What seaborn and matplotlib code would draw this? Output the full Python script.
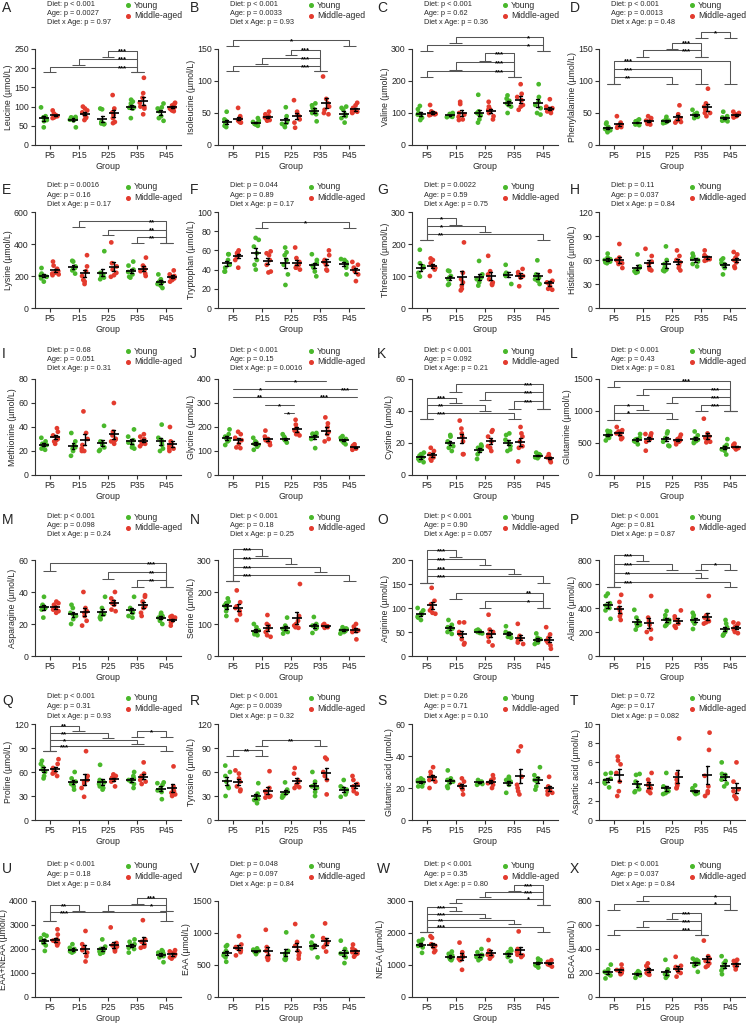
import numpy as np
import pandas as pd
import seaborn as sns
import matplotlib.pyplot as plt
from matplotlib.lines import Line2D

groups = ['P5', 'P15', 'P25', 'P35', 'P45']
ages = ['Young', 'Middle-aged']
colors = ['#49b82b', '#e33b2e']

# values, one list per group (P5..P45), µmol/L
leu_young = [[98, 75, 72, 70, 65, 62, 46], [73, 72, 70, 68, 66, 64, 46], [95, 93, 60, 58, 56, 55, 54],
             [118, 113, 100, 98, 97, 95, 70, 108], [108, 98, 95, 88, 75, 70, 63]]
leu_middle = [[90, 82, 78, 76, 75, 73, 70, 72], [100, 95, 90, 85, 78, 72, 70, 65], [130, 95, 85, 78, 70, 60, 57],
              [175, 135, 123, 110, 100, 95, 80, 100], [110, 107, 103, 98, 95, 93, 90, 88]]
ile_young = [[52, 40, 38, 35, 33, 30, 28], [42, 38, 36, 35, 33, 32, 30], [59, 45, 38, 35, 33, 30, 28],
             [65, 62, 58, 55, 50, 48, 37], [60, 58, 55, 48, 45, 42, 35]]
ile_middle = [[58, 45, 42, 40, 38, 36, 35, 36], [52, 48, 45, 43, 40, 39, 38], [70, 52, 48, 45, 40, 35, 27],
              [107, 72, 65, 60, 55, 50, 48], [66, 62, 58, 55, 53, 52, 50, 51]]
val_young = [[122, 112, 100, 95, 90, 85, 78], [100, 97, 95, 93, 90, 88, 87], [157, 105, 100, 95, 80, 70, 92],
             [155, 145, 135, 130, 125, 120, 100, 138], [190, 150, 135, 125, 115, 95, 100]]
val_middle = [[125, 105, 100, 98, 97, 95, 93, 96], [135, 128, 100, 95, 88, 80, 78], [135, 120, 112, 105, 100, 90, 80, 110],
              [190, 160, 150, 140, 125, 120, 110], [143, 120, 115, 110, 105, 100, 105]]
phe_young = [[35, 33, 28, 25, 23, 20, 22], [40, 38, 37, 35, 33, 32, 31], [44, 40, 38, 37, 36, 35, 34],
             [55, 50, 48, 46, 44, 42, 45], [52, 45, 43, 40, 38, 37, 39]]
phe_middle = [[45, 35, 32, 30, 30, 28, 27], [45, 42, 40, 38, 35, 33, 32], [62, 48, 42, 40, 38, 36, 35],
              [88, 65, 60, 55, 50, 45, 50], [52, 50, 48, 47, 45, 44, 43]]
lys_young = [[250, 215, 205, 200, 195, 185, 165], [295, 290, 260, 250, 245, 235, 215], [355, 220, 210, 195, 190, 180, 200],
             [290, 265, 240, 225, 210, 195, 190], [210, 180, 165, 160, 150, 140, 125]]
lys_middle = [[290, 265, 245, 230, 220, 215, 210, 205], [330, 260, 230, 200, 175, 150, 165], [410, 280, 260, 240, 220, 205, 195],
              [315, 265, 255, 240, 230, 215, 200], [235, 210, 200, 195, 185, 175, 165]]
trp_young = [[56, 56, 50, 45, 42, 38, 38], [73, 71, 64, 57, 50, 45, 40], [63, 58, 55, 50, 45, 35, 24],
             [56, 50, 47, 44, 42, 38, 33], [51, 50, 48, 47, 45, 42, 35]]
trp_middle = [[60, 58, 57, 55, 53, 50, 42, 57], [59, 57, 55, 50, 45, 38, 37], [63, 52, 48, 45, 44, 42, 42, 40],
              [60, 55, 50, 48, 45, 40, 39], [48, 45, 42, 40, 38, 35, 28]]
thr_young = [[182, 140, 130, 125, 110, 100, 98], [117, 115, 100, 95, 90, 75, 72], [147, 105, 100, 95, 90, 80, 70],
             [135, 110, 105, 102, 100, 75], [149, 105, 100, 95, 85, 75, 90]]
thr_middle = [[155, 150, 140, 130, 125, 120, 100], [205, 110, 90, 80, 70, 60, 55], [163, 115, 105, 90, 80, 75, 72],
              [122, 112, 105, 100, 95, 68], [115, 85, 80, 75, 68, 60, 57]]
his_young = [[68, 63, 61, 60, 58, 57, 56], [67, 52, 50, 48, 46, 45, 44], [77, 60, 55, 50, 48, 46, 47],
             [68, 65, 60, 58, 55, 52, 62], [62, 60, 56, 55, 50, 42, 52]]
his_middle = [[80, 63, 60, 58, 55, 50, 56], [74, 65, 58, 55, 50, 48, 47], [72, 65, 60, 57, 53, 50, 47],
              [72, 66, 64, 62, 61, 60, 59], [70, 67, 63, 60, 57, 52, 50]]
met_young = [[31, 28, 26, 25, 24, 22, 21], [35, 28, 25, 23, 22, 20, 16], [41, 28, 27, 25, 23, 21, 20],
             [38, 32, 29, 27, 25, 23, 22], [42, 31, 29, 27, 25, 22, 20]]
met_middle = [[39, 36, 33, 31, 30, 28, 26, 29], [53, 35, 30, 25, 22, 20, 20], [60, 36, 33, 30, 29, 28, 26, 30],
              [34, 32, 30, 28, 26, 24, 26], [40, 28, 26, 24, 22, 20, 22]]
gly_young = [[190, 170, 160, 155, 145, 140, 125], [155, 140, 135, 130, 125, 118, 105], [170, 160, 155, 150, 148, 145, 135],
             [175, 172, 170, 168, 160, 150, 112], [162, 155, 150, 145, 140, 135, 128]]
gly_middle = [[180, 170, 155, 145, 130, 115, 112], [185, 160, 150, 145, 140, 135, 125], [230, 210, 195, 185, 175, 170, 165],
              [240, 215, 200, 180, 170, 150, 140], [128, 122, 118, 115, 112, 110, 105]]
cys_young = [[14, 13, 12, 11, 10, 9, 8], [25, 24, 21, 20, 18, 17, 15], [19, 18, 17, 16, 15, 13, 10],
             [26, 25, 22, 20, 18, 16, 15], [14, 13, 12.5, 12, 11.5, 11, 10.5]]
cys_middle = [[17, 15, 13, 12, 11, 10, 9], [34, 29, 26, 24, 21, 13, 13], [28, 27, 24, 21, 18, 17, 15],
              [30, 26, 24, 21, 18, 17, 8.5], [13, 12, 11, 10.5, 10, 9, 8]]
gln_young = [[690, 680, 650, 630, 610, 580, 540], [640, 580, 560, 550, 530, 520, 480], [680, 650, 580, 560, 520, 450, 460],
             [680, 620, 570, 550, 530, 520, 500], [560, 470, 440, 420, 400, 380, 320]]
gln_middle = [[750, 700, 680, 650, 620, 580, 560], [650, 640, 620, 590, 560, 520, 380], [630, 590, 560, 540, 530, 520, 480],
              [880, 650, 600, 580, 550, 520, 510], [490, 470, 450, 440, 430, 420, 400]]
asn_young = [[37, 32, 31, 30, 30, 29, 24], [32, 30, 27, 26, 25, 23, 20], [37, 30, 27, 26, 25, 24, 23],
             [37, 30, 29, 28, 27, 25, 24], [27, 26, 25, 24, 24, 22, 20]]
asn_middle = [[34, 33, 32, 31, 30, 29, 27, 28], [40, 30, 28, 27, 25, 22, 19], [40, 36, 34, 33, 32, 29, 28],
              [38, 37, 34, 31, 30, 27, 25], [25, 24.5, 24, 23, 22.5, 22, 21, 19]]
ser_young = [[180, 170, 165, 158, 150, 140, 125], [100, 90, 80, 75, 70, 68, 65], [120, 95, 88, 85, 80, 75, 70],
             [122, 100, 95, 90, 88, 85, 72], [90, 86, 84, 80, 78, 75, 70]]
ser_middle = [[205, 168, 155, 150, 140, 130, 112], [128, 100, 95, 85, 75, 65, 60], [225, 125, 110, 100, 95, 90, 88],
              [100, 97, 95, 93, 92, 90, 88], [100, 92, 85, 80, 78, 75, 52]]
arg_young = [[100, 95, 90, 87, 82, 80, 75], [75, 65, 60, 57, 55, 50, 46], [55, 53, 52, 51, 50, 48, 47],
             [62, 50, 47, 45, 43, 40, 38], [47, 38, 35, 33, 30, 28, 25]]
arg_middle = [[142, 115, 108, 100, 95, 90, 88], [70, 70, 50, 45, 35, 27, 24], [86, 55, 50, 45, 40, 30, 22],
              [67, 42, 38, 35, 32, 28, 25], [60, 45, 38, 32, 28, 22, 15]]
ala_young = [[520, 500, 440, 420, 400, 380, 310], [385, 320, 290, 270, 260, 250, 220], [375, 340, 310, 300, 280, 260, 250],
             [360, 340, 320, 300, 290, 270, 225], [300, 270, 240, 220, 200, 180, 170]]
ala_middle = [[510, 450, 400, 380, 350, 330, 300], [500, 320, 290, 260, 220, 200, 145], [380, 330, 310, 290, 270, 250, 235],
              [500, 340, 320, 300, 290, 280, 270], [280, 270, 250, 240, 220, 200, 190]]
pro_young = [[74, 70, 66, 63, 60, 55, 52], [60, 52, 48, 46, 45, 42, 38], [69, 50, 47, 45, 42, 40, 38],
             [60, 55, 52, 50, 48, 45, 40], [47, 46, 44, 40, 37, 35, 26]]
pro_middle = [[76, 70, 65, 62, 60, 58, 55], [86, 55, 50, 48, 45, 40, 29], [57, 55, 53, 52, 50, 48, 42],
              [72, 58, 55, 52, 50, 48, 45], [67, 42, 38, 36, 34, 32, 30]]
tyr_young = [[68, 60, 55, 48, 42, 40, 30], [46, 33, 30, 28, 26, 25, 21], [47, 38, 35, 33, 31, 30, 28],
             [60, 48, 44, 42, 40, 35, 30], [50, 42, 40, 38, 35, 32, 29]]
tyr_middle = [[62, 58, 52, 48, 42, 38, 36], [61, 40, 36, 33, 30, 29, 28], [65, 58, 50, 47, 44, 41, 40],
              [78, 76, 60, 55, 50, 32], [55, 50, 45, 42, 40, 36, 33]]
glu_young = [[26, 25, 25, 24, 23, 21, 21], [31, 26, 25, 24, 23, 21, 20], [25, 24.5, 24, 23.5, 23, 22.5, 22],
             [27, 26, 25, 24, 23, 22, 17], [33, 28, 26, 25, 24, 21, 19]]
glu_middle = [[33, 30, 28, 26, 25, 24, 20], [26, 24, 22, 21, 20, 19, 16], [28, 26, 25, 24, 23, 22, 20],
              [46, 43, 27, 22, 20, 18, 16], [27, 21, 20, 19, 18, 17, 16]]
asp_young = [[4.9, 4.8, 4.3, 4.1, 3.9, 3.8, 3.4], [4.8, 4.7, 4.0, 3.6, 3.2, 3.0, 2.9], [4.9, 3.5, 3.3, 3.0, 2.9, 2.8, 2.7],
             [3.6, 3.3, 3.0, 2.9, 2.8, 2.8, 2.7], [6.0, 4.8, 4.7, 4.5, 4.2, 3.8, 3.5]]
asp_middle = [[6.6, 6.2, 5.8, 4.9, 4.0, 3.0, 2.5], [4.9, 4.2, 3.8, 3.6, 3.3, 3.0, 2.8], [8.5, 4.8, 4.2, 3.8, 3.6, 3.4, 3.3],
              [9.1, 7.3, 3.5, 3.0, 2.8, 2.5, 4.6], [6.0, 4.0, 3.2, 3.0, 2.5, 2.3, 2.2]]
tot_young = [[2600, 2550, 2450, 2350, 2250, 2150, 1920], [2200, 2050, 2000, 1950, 1900, 1900, 1850],
             [2400, 2100, 2000, 1950, 1900, 1850, 1800], [2400, 2300, 2200, 2150, 2050, 2000, 1850],
             [1950, 1900, 1850, 1800, 1700, 1650, 1450]]
tot_middle = [[2820, 2600, 2400, 2350, 2300, 2200, 2150, 2250], [2750, 2200, 2050, 1950, 1850, 1700, 1480],
              [2900, 2250, 2150, 2100, 2000, 1950, 1900], [3200, 2400, 2300, 2200, 2150, 2100, 2050],
              [1950, 1900, 1850, 1780, 1700, 1650, 1600]]
eaa_young = [[810, 790, 720, 680, 650, 620, 550], [760, 740, 720, 710, 700, 690, 670], [1010, 720, 680, 650, 600, 580, 590],
             [950, 850, 820, 800, 780, 760, 620], [880, 750, 700, 680, 660, 620, 530]]
eaa_middle = [[950, 820, 780, 760, 730, 700, 650], [1050, 780, 720, 650, 620, 600, 580], [1140, 860, 800, 720, 690, 650, 600],
              [1150, 920, 880, 850, 820, 780, 710], [820, 760, 730, 700, 680, 660, 630]]
neaa_young = [[1800, 1750, 1700, 1650, 1600, 1550, 1380], [1420, 1350, 1300, 1250, 1200, 1150, 1180],
              [1500, 1400, 1320, 1300, 1250, 1200, 1150], [1500, 1450, 1400, 1350, 1300, 1250, 1120],
              [1200, 1150, 1100, 1050, 1000, 980, 920]]
neaa_middle = [[1900, 1850, 1650, 1600, 1550, 1450, 1400], [1700, 1400, 1300, 1250, 1200, 1150, 850],
               [1780, 1450, 1380, 1320, 1280, 1250, 1200], [2050, 1500, 1420, 1380, 1320, 1300, 1250],
               [1150, 1100, 1080, 1050, 1020, 1000, 950]]
bcaa_young = [[270, 230, 210, 200, 190, 180, 155], [215, 205, 200, 195, 190, 180, 160], [310, 230, 200, 190, 180, 170, 160],
              [320, 310, 300, 290, 280, 260, 210], [340, 300, 280, 260, 240, 220, 190]]
bcaa_middle = [[270, 235, 225, 220, 210, 200, 190], [280, 260, 240, 220, 200, 190, 185], [335, 260, 250, 230, 210, 200, 170],
               [470, 340, 320, 300, 280, 260, 250], [310, 300, 280, 270, 260, 250, 230]]

# two-way ANOVA p values: Diet, Age, Diet x Age
leu_p = ['p < 0.001', 'p = 0.0027', 'p = 0.97']
ile_p = ['p < 0.001', 'p = 0.0033', 'p = 0.93']
val_p = ['p < 0.001', 'p = 0.62', 'p = 0.36']
phe_p = ['p < 0.001', 'p = 0.0013', 'p = 0.48']
lys_p = ['p = 0.0016', 'p = 0.16', 'p = 0.17']
trp_p = ['p = 0.044', 'p = 0.89', 'p = 0.17']
thr_p = ['p = 0.0022', 'p = 0.59', 'p = 0.75']
his_p = ['p = 0.11', 'p = 0.037', 'p = 0.84']
met_p = ['p = 0.68', 'p = 0.051', 'p = 0.31']
gly_p = ['p < 0.001', 'p = 0.15', 'p = 0.0016']
cys_p = ['p < 0.001', 'p = 0.092', 'p = 0.21']
gln_p = ['p < 0.001', 'p = 0.43', 'p = 0.81']
asn_p = ['p < 0.001', 'p = 0.098', 'p = 0.24']
ser_p = ['p < 0.001', 'p = 0.18', 'p = 0.25']
arg_p = ['p < 0.001', 'p = 0.90', 'p = 0.057']
ala_p = ['p < 0.001', 'p = 0.81', 'p = 0.87']
pro_p = ['p < 0.001', 'p = 0.31', 'p = 0.93']
tyr_p = ['p < 0.001', 'p = 0.0039', 'p = 0.32']
glu_p = ['p = 0.26', 'p = 0.71', 'p = 0.10']
asp_p = ['p = 0.72', 'p = 0.17', 'p = 0.082']
tot_p = ['p < 0.001', 'p = 0.18', 'p = 0.84']
eaa_p = ['p = 0.048', 'p = 0.097', 'p = 0.84']
neaa_p = ['p < 0.001', 'p = 0.35', 'p = 0.80']
bcaa_p = ['p < 0.001', 'p = 0.037', 'p = 0.84']

# group comparisons: (group a, group b, foot a, foot b, top, stars, star position)
leu_sig = [(0, 3, 190, 190, 202, '***', 'b'), (1, 3, 209, 190, 225, '***', 'b'), (2, 3, 229, 190, 246, '***', 'b')]
ile_sig = [(0, 4, 154, 154, 164, '*', 'c'), (2, 3, 140, 115, 149, '***', 'b'), (1, 3, 127, 115, 136, '***', 'b'),
           (0, 3, 115, 115, 123, '***', 'b')]
val_sig = [(1, 4, 319, 293, 337, '*', 'b'), (0, 4, 293, 293, 313, '*', 'b'), (2, 3, 261, 211, 287, '***', 'b'),
           (1, 3, 235, 211, 258, '***', 'b'), (0, 3, 211, 211, 230, '***', 'b')]
phe_sig = [(3, 4, 167, 167, 177, '*', 'c'), (2, 3, 150, 138, 160, '***', 'b'), (1, 3, 138, 138, 148, '***', 'b'),
           (0, 4, 96, 96, 132, '***', 'a'), (0, 3, 96, 96, 118, '***', 'a'), (0, 2, 96, 96, 106, '**', 'a')]
lys_sig = [(1, 4, 505, 406, 541, '**', 'b'), (2, 4, 457, 406, 490, '**', 'b'), (3, 4, 406, 406, 442, '**', 'b')]
trp_sig = [(1, 4, 83, 83, 89.5, '*', 'c')]
thr_sig = [(0, 1, 213, 260, 281, '*', 'a'), (0, 2, 213, 237, 256, '*', 'a'), (0, 4, 213, 213, 231, '**', 'a')]
cys_sig = [(1, 4, 52, 41.5, 56.8, '***', 'b'), (2, 4, 46.7, 41.5, 51.6, '***', 'b'), (3, 4, 41.5, 41.5, 46.3, '***', 'b'),
           (0, 1, 34.7, 44.8, 48.4, '***', 'a'), (0, 2, 34.7, 40, 43.6, '**', 'a'), (0, 3, 34.7, 34.7, 38.9, '***', 'a')]
gln_sig = [(0, 4, 1368, 1000, 1474, '***', 2.5), (1, 4, 1247, 1000, 1342, '***', 'b'), (2, 4, 1121, 1000, 1221, '***', 'b'),
           (3, 4, 1000, 1000, 1095, '***', 'b'), (0, 1, 853, 1010, 1095, '*', 'a'), (0, 2, 853, 879, 974, '*', 'a')]
asn_sig = [(0, 4, 53.3, 43.4, 57.9, '***', 'b'), (2, 4, 48.4, 43.4, 52.2, '**', 'b'), (3, 4, 43.4, 43.4, 47.4, '**', 'b')]
ser_sig = [(0, 1, 235, 314, 335, '***', 'a'), (0, 2, 235, 287, 305, '***', 'a'), (0, 3, 235, 261, 277, '***', 'a'),
           (0, 4, 235, 235, 253, '***', 'a')]
arg_sig = [(0, 1, 153, 207, 220, '***', 'a'), (0, 2, 153, 189, 202, '***', 'a'), (0, 3, 153, 171, 182, '***', 'a'),
           (0, 4, 153, 153, 166, '***', 'a'), (1, 4, 118, 100, 132, '**', 'b'), (2, 4, 100, 100, 114, '*', 'b')]
ala_sig = [(0, 1, 576, 795, 843, '***', 'a'), (0, 2, 576, 719, 767, '***', 'a'), (0, 3, 576, 646, 691, '**', 'a'),
           (0, 4, 576, 576, 618, '***', 'a'), (3, 4, 719, 719, 767, '*', 'c')]
pro_sig = [(0, 1, 85.8, 111, 118, '**', 'a'), (0, 2, 85.8, 102.5, 108.8, '**', 'a'), (0, 3, 85.8, 95, 100.4, '*', 'a'),
           (0, 4, 85.8, 85.8, 92.9, '***', 'a'), (3, 4, 103.8, 103.8, 110.9, '*', 'c')]
tyr_sig = [(0, 1, 80.3, 80.3, 87.9, '**', 'c'), (1, 3, 92.9, 92.9, 100.4, '**', 'c')]
tot_sig = [(0, 1, 3186, 3565, 3846, '**', 'a'), (0, 4, 3186, 3186, 3537, '***', 'a'),
           (3, 4, 3888, 3565, 4140, '***', 'c'), (2, 4, 3565, 3565, 3817, '*', 'b')]
neaa_sig = [(3, 4, 3316, 2884, 3495, '***', 'c'), (2, 4, 3126, 2884, 3284, '***', 'b'), (1, 4, 2947, 2884, 3074, '*', 'b'),
            (0, 1, 2021, 2674, 2811, '***', 'a'), (0, 2, 2021, 2463, 2600, '***', 'a'), (0, 3, 2021, 2274, 2411, '**', 'a'),
            (0, 4, 2021, 2021, 2200, '***', 'a')]
bcaa_sig = [(1, 4, 800, 728, 843, '*', 'b'), (0, 4, 728, 728, 778, '*', 'b'), (2, 3, 652, 517, 702, '***', 'b'),
            (1, 3, 581, 517, 632, '***', 'b'), (0, 3, 517, 517, 562, '***', 'b')]
# glycine uses plain lines: (x from, x to, y, [(stars, x)])
gly_lines = [(1.1, 3.2, 390, [('*', 2.15)]), (0.0, 4.25, 358, [('*', 0.95), ('***', 3.85)]),
             (0.0, 4.25, 327, [('**', 0.95), ('***', 3.15)]), (1.1, 2.1, 290, [('*', 1.6)]),
             (1.75, 2.1, 257, [('*', 1.93)])]

panels = [
    ('A', 'Leucine', leu_young, leu_middle, 250, 50, leu_p, leu_sig, None),
    ('B', 'Isoleucine', ile_young, ile_middle, 150, 50, ile_p, ile_sig, None),
    ('C', 'Valine', val_young, val_middle, 300, 100, val_p, val_sig, None),
    ('D', 'Phenylalanine', phe_young, phe_middle, 150, 50, phe_p, phe_sig, None),
    ('E', 'Lysine', lys_young, lys_middle, 600, 200, lys_p, lys_sig, None),
    ('F', 'Tryptophan', trp_young, trp_middle, 100, 20, trp_p, trp_sig, None),
    ('G', 'Threonine', thr_young, thr_middle, 300, 100, thr_p, thr_sig, None),
    ('H', 'Histidine', his_young, his_middle, 120, 30, his_p, [], None),
    ('I', 'Methionine', met_young, met_middle, 80, 20, met_p, [], None),
    ('J', 'Glycine', gly_young, gly_middle, 400, 100, gly_p, [], gly_lines),
    ('K', 'Cystine', cys_young, cys_middle, 60, 20, cys_p, cys_sig, None),
    ('L', 'Glutamine', gln_young, gln_middle, 1500, 500, gln_p, gln_sig, None),
    ('M', 'Asparagine', asn_young, asn_middle, 60, 20, asn_p, asn_sig, None),
    ('N', 'Serine', ser_young, ser_middle, 300, 100, ser_p, ser_sig, None),
    ('O', 'Arginine', arg_young, arg_middle, 200, 50, arg_p, arg_sig, None),
    ('P', 'Alanine', ala_young, ala_middle, 800, 200, ala_p, ala_sig, None),
    ('Q', 'Proline', pro_young, pro_middle, 120, 30, pro_p, pro_sig, None),
    ('R', 'Tyrosine', tyr_young, tyr_middle, 120, 30, tyr_p, tyr_sig, None),
    ('S', 'Glutamic acid', glu_young, glu_middle, 60, 20, glu_p, [], None),
    ('T', 'Aspartic acid', asp_young, asp_middle, 10, 2, asp_p, [], None),
    ('U', 'EAA+NEAA', tot_young, tot_middle, 4000, 1000, tot_p, tot_sig, None),
    ('V', 'EAA', eaa_young, eaa_middle, 1500, 500, eaa_p, [], None),
    ('W', 'NEAA', neaa_young, neaa_middle, 3000, 1000, neaa_p, neaa_sig, None),
    ('X', 'BCAA', bcaa_young, bcaa_middle, 800, 200, bcaa_p, bcaa_sig, None),
]

sns.set_style('ticks')
plt.rcParams['font.family'] = ['Liberation Sans', 'DejaVu Sans']
np.random.seed(7)

W, H = 746, 1025
fig = plt.figure(figsize=(W / 100, H / 100), dpi=100)

# layout in pixels
col_left = [35, 218, 412, 599]
letter_x = [2, 190, 377, 570]
row_bottom = [145, 308, 475, 656, 820, 997]
row_text = [4, 186, 350, 516, 697, 865]
AXW, AXH = 146, 96
line_col = '#555555'
text_col = '#2a2a2a'


def fx(px):
    return px / W


def fy(py):
    return 1 - py / H


def star(ax, x, y, label):
    ax.annotate(label, (x, y), xytext=(0, -2.2), textcoords='offset points', ha='center', va='baseline',
                fontsize=5.6, fontweight='bold', color='black', annotation_clip=False)


def bracket(ax, a, b, ya, yb, top, label, where):
    kw = dict(color=line_col, lw=0.75, clip_on=False, solid_capstyle='butt')
    ax.plot([a - 0.22, a + 0.22], [ya, ya], **kw)
    ax.plot([a, a, b, b], [ya, top, top, yb], **kw)
    ax.plot([b - 0.22, b + 0.22], [yb, yb], **kw)
    if where == 'a':
        sx = a + 0.5
    elif where == 'b':
        sx = b - 0.5
    elif where == 'c':
        sx = (a + b) / 2
    else:
        sx = where
    star(ax, sx, top, label)


for k, (letter, name, young, middle, ymax, step, pvals, sig, lines) in enumerate(panels):
    r, c = divmod(k, 4)
    left = col_left[c]
    ax = fig.add_axes([fx(left), fy(row_bottom[r]), fx(AXW), AXH / H])

    rows = []
    for age, vals in zip(ages, [young, middle]):
        for g, v in zip(groups, vals):
            rows += [(g, age, x) for x in v]
    df = pd.DataFrame(rows, columns=['Group', 'Age', 'value'])

    sns.stripplot(data=df, x='Group', y='value', hue='Age', order=groups, hue_order=ages, dodge=True,
                  jitter=0.22, size=3.4, palette=colors, linewidth=0, legend=False, ax=ax, zorder=1)
    sns.pointplot(data=df, x='Group', y='value', hue='Age', order=groups, hue_order=ages, dodge=0.4,
                  errorbar='se', capsize=0.1, markers='_', markersize=7, markeredgewidth=1.2,
                  linestyle='none', palette=['black', 'black'], err_kws={'linewidth': 1.0},
                  legend=False, ax=ax)

    ax.set_xlim(-0.5, 4.5)
    ax.set_ylim(0, ymax)
    ax.set_yticks(np.arange(0, ymax + step / 2, step))
    ax.set_xticks(range(5))
    ax.set_xticklabels(groups)
    ax.set_xlabel('Group', fontsize=6.4, labelpad=1.5)
    ax.set_ylabel(name + ' (µmol/L)', fontsize=6.3, labelpad=1.0)
    ax.tick_params(length=3, width=0.8, labelsize=6.3, pad=1.5, color='#333333')
    for s in ['top', 'right']:
        ax.spines[s].set_visible(False)
    for s in ['left', 'bottom']:
        ax.spines[s].set_linewidth(0.8)
        ax.spines[s].set_color('#333333')

    for b in sig:
        bracket(ax, *b)
    if lines:
        for x1, x2, y, labels in lines:
            ax.plot([x1, x2], [y, y], color=line_col, lw=0.75, clip_on=False)
            for lab, lx in labels:
                star(ax, lx, y, lab)

    # panel letter, ANOVA text and legend
    ty = row_text[r]
    fig.text(fx(letter_x[c]), fy(ty + 4), letter, fontsize=10, va='center', ha='left')
    for i, lab in enumerate(['Diet', 'Age', 'Diet x Age']):
        fig.text(fx(left + 12), fy(ty + i * 9.5), f'{lab}: {pvals[i]}', fontsize=5.3,
                 va='center', ha='left', color=text_col)
    for i, age in enumerate(ages):
        yy = fy(ty + 1 + i * 10.5)
        fig.add_artist(Line2D([fx(left + 93)], [yy], marker='o', markersize=2.6, color=colors[i],
                              linestyle='none', transform=fig.transFigure))
        fig.text(fx(left + 99), yy, age, fontsize=6.2, va='center', ha='left', color=text_col)

fig.savefig('out.png', dpi=100)
